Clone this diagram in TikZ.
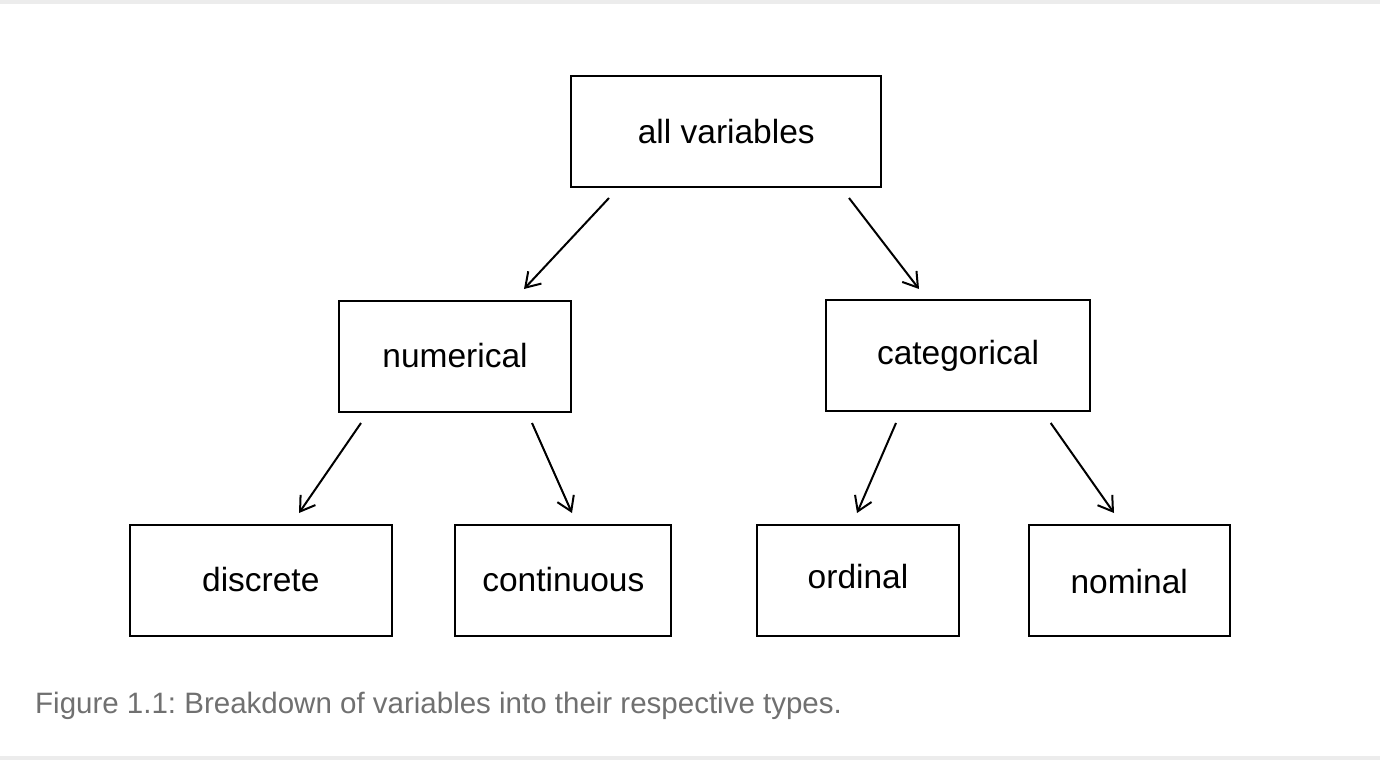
\documentclass[tikz,border=0pt]{standalone}
\usepackage{fontspec}
\setmainfont{Liberation Sans}
\usetikzlibrary{arrows.meta}
\definecolor{barcol}{HTML}{ECECEC}
\definecolor{capcol}{HTML}{707070}
\tikzset{
  box/.style={draw=black, line width=2pt, inner sep=0pt, text depth=0pt,
    minimum height=111pt, font=\fontsize{33.5}{40}\selectfont},
  conn/.style={line width=2pt, -{Straight Barb[length=14pt,width=18pt]}},
  bar/.style={fill=barcol, draw=none},
  caption/.style={anchor=base west, inner sep=0pt, text=capcol,
    font=\fontsize{29.5}{34}\selectfont\frenchspacing}
}
\begin{document}
\begin{tikzpicture}[x=1pt,y=-1pt]
\useasboundingbox (0,0) rectangle (1380,760);
\fill[white] (0,0) rectangle (1380,760);
\fill[bar] (0,0.5) rectangle (1380,4.5);
\fill[bar] (0,756) rectangle (1380,760);

\node[box, minimum width=310pt, text height=24.2pt] (all) at (726.3,131.2) {all variables};
\node[box, minimum width=232.6pt, text height=22.8pt] (num) at (455,356.3) {numerical};
\node[box, minimum width=263.4pt, text height=17pt] (cat) at (958,355.8) {categorical};
\node[box, minimum width=262.3pt, text height=21pt] (dis) at (260.8,580.5) {discrete};
\node[box, minimum width=216pt, text height=21pt] (con) at (563.3,580.5) {continuous};
\node[box, minimum width=201.4pt, text height=15.6pt] (ord) at (858,580.5) {ordinal};
\node[box, minimum width=201pt, text height=25pt] (nom) at (1129.2,580.5) {nominal};

\coordinate (allL) at (609,198);
\coordinate (allR) at (849,198);
\coordinate (numIn) at (524,289);
\coordinate (catIn) at (919,289);
\coordinate (numL) at (361,423);
\coordinate (numR) at (532,423);
\coordinate (catL) at (896,423);
\coordinate (catR) at (1050.7,423);
\coordinate (disIn) at (299,513);
\coordinate (conIn) at (572,513);
\coordinate (ordIn) at (857,513);
\coordinate (nomIn) at (1114,513);

\draw[conn] (allL) -- (numIn);
\draw[conn] (allR) -- (catIn);
\draw[conn] (numL) -- (disIn);
\draw[conn] (numR) -- (conIn);
\draw[conn] (catL) -- (ordIn);
\draw[conn] (catR) -- (nomIn);

\node[caption] (cap) at (35,713) {Figure 1.1: Breakdown of variables into their respective types.};
\end{tikzpicture}
\end{document}
